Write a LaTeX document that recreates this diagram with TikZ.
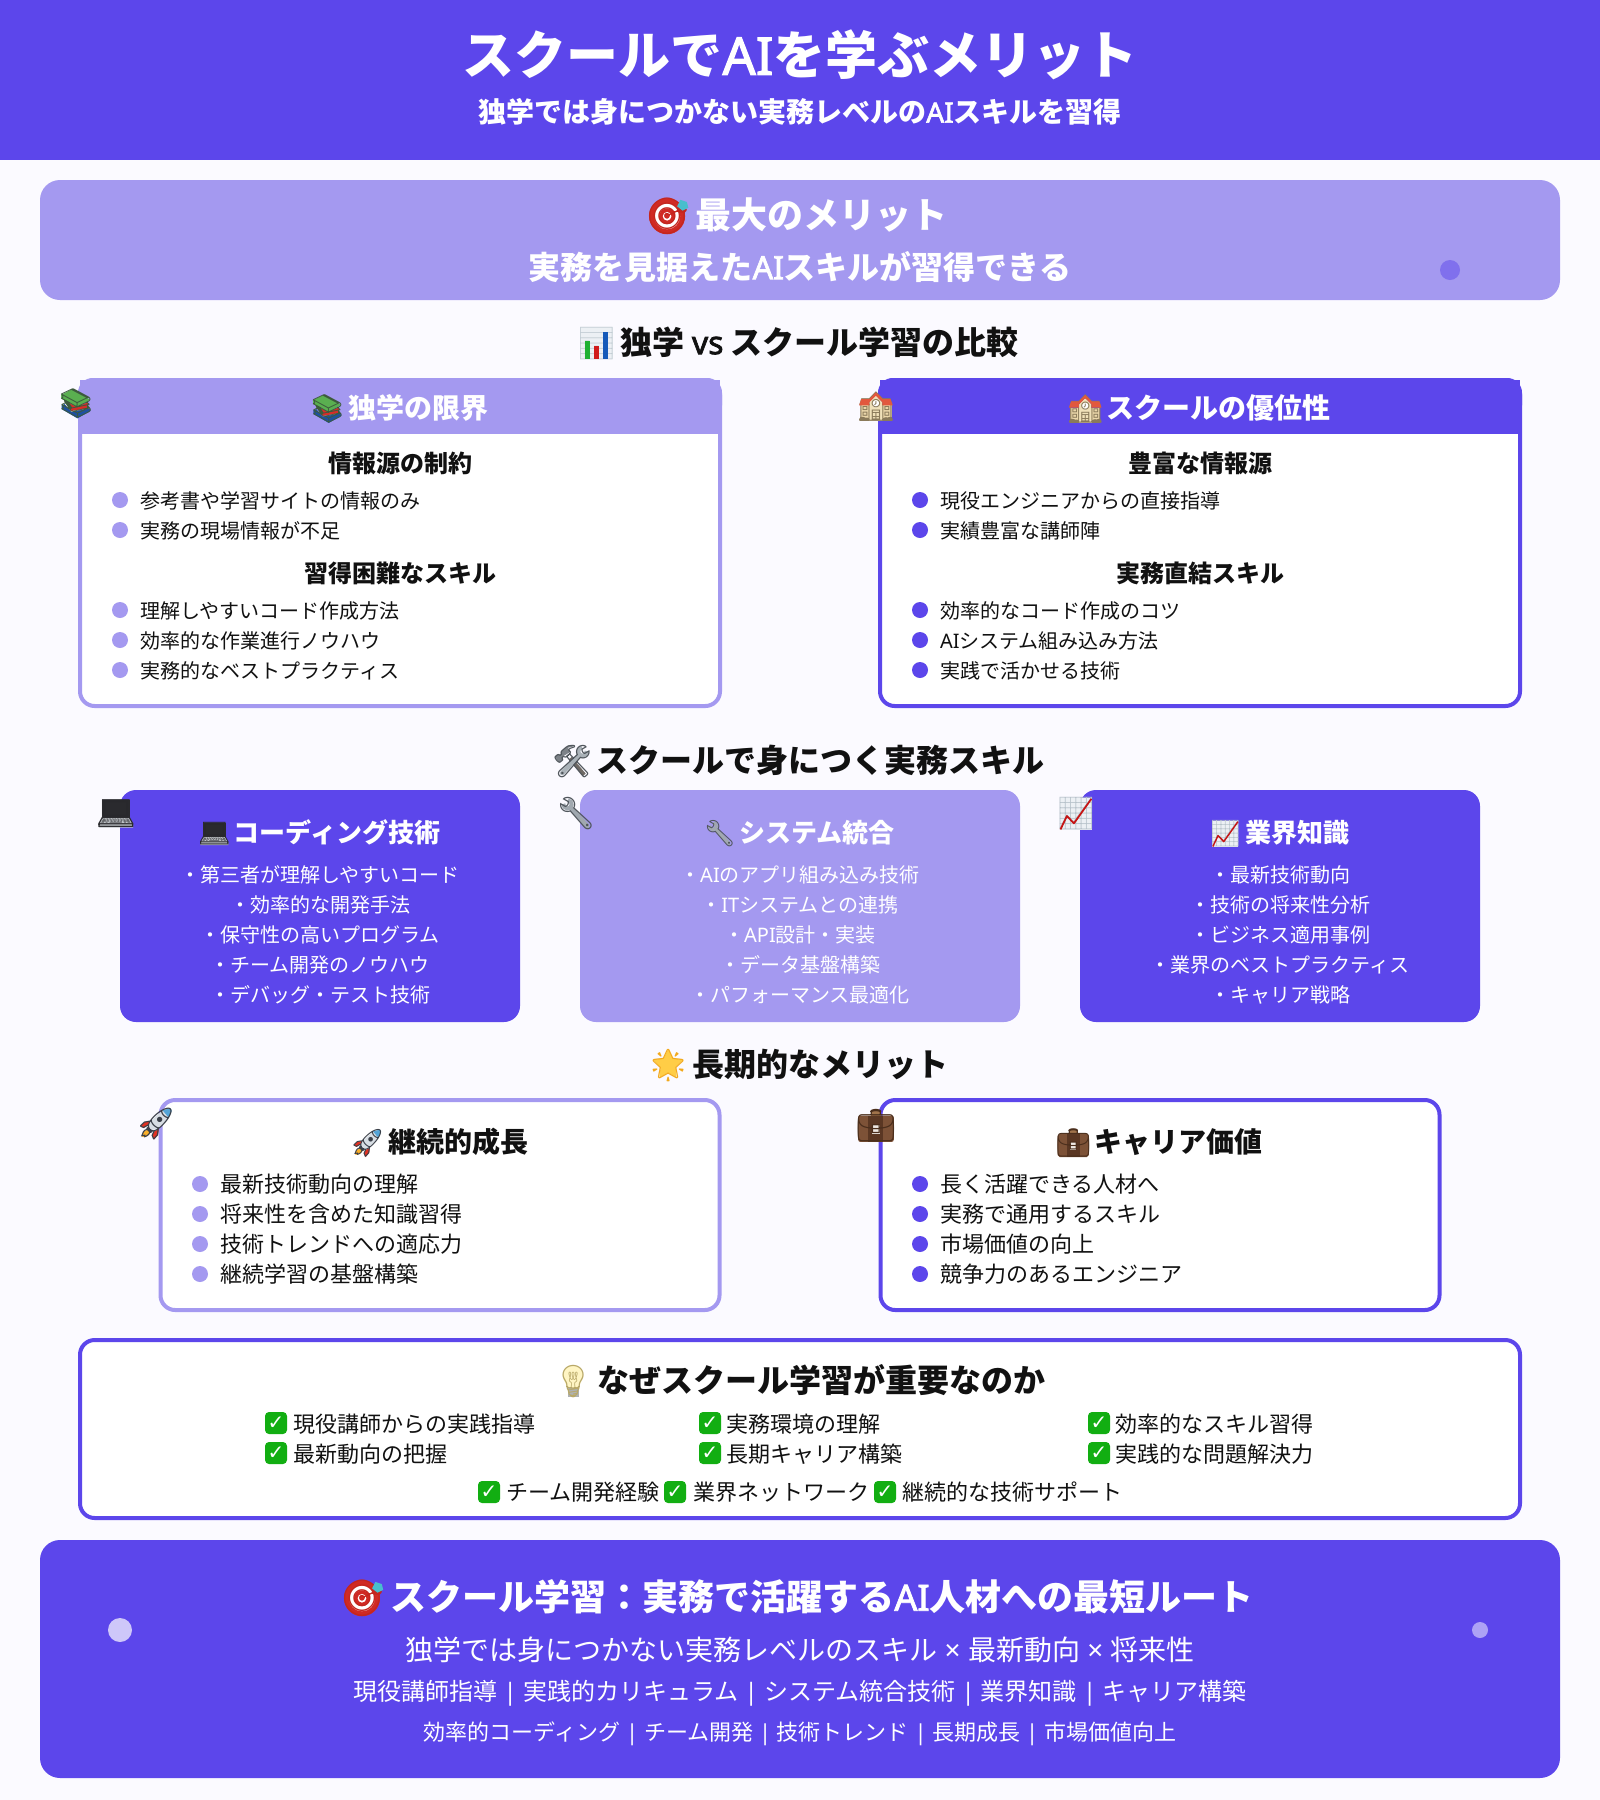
\documentclass[tikz,border=0pt]{standalone}
\usepackage{fontspec}
\setmainfont{Noto Sans CJK JP}
\newfontfamily\emojifont{Noto Emoji}
\newfontfamily\dejafont{DejaVu Sans}
\newfontfamily\lat{Noto Sans}
\newfontfamily\latb{Noto Sans}[FakeBold=2.2]
\definecolor{dk}{HTML}{5C46EB}
\definecolor{lt}{HTML}{A499F0}
\definecolor{pagebg}{HTML}{FBFAFF}
\definecolor{ink}{HTML}{111111}
\definecolor{echk}{HTML}{12AE12}
\newcommand\px[1]{\fontsize{\fpeval{#1*.75}}{\fpeval{#1*.9}}\selectfont}
\newcommand\La[1]{{\lat #1}}
\newcommand\Lb[1]{{\mdseries\latb #1}}
\newcommand\eg{\hspace{.12em}}
% coloured emoji: under-shapes, glyph, glyph colour, over-shapes (em coordinates, origin on the glyph's base line)
\newcommand\emb[4]{\mbox{\emojifont\mdseries
  \tikz[overlay,baseline=0pt,x=1em,y=1em]{#1}%
  \makebox[0pt][l]{\color[HTML]{#3}#2}%
  \tikz[overlay,baseline=0pt,x=1em,y=1em]{#4}%
  \phantom{#2}}}
\newcommand\emTarget{\emb{%
  \fill[fill={rgb,255:red,208;green,42;blue,36}] (.6,.345) circle (.5);
  \fill[white] (.6,.345) circle (.36);
  \fill[fill={rgb,255:red,208;green,42;blue,36}] (.6,.345) circle (.22);
  \fill[white] (.6,.345) circle (.12);
  }{🎯}{C4261E}{%
  \fill[fill={rgb,255:red,72;green,190;blue,205}] (.88,.62)--(.97,.80)--(1.15,.74)--(1.19,.58)--(1.03,.50)--cycle;
  \fill[fill={rgb,255:red,208;green,42;blue,36}] (.6,.345) circle (.06);}}
\newcommand\emBar{\emb{%
  \fill[fill={rgb,255:red,236;green,240;blue,244}] (.13,-.16) rectangle (1.145,.85);
  }{📊}{C3CDD4}{%
  \fill[fill={rgb,255:red,30;green,176;blue,50}] (.276,-.16) rectangle (.42,.425);
  \fill[fill={rgb,255:red,208;green,26;blue,26}] (.563,-.16) rectangle (.71,.265);
  \fill[fill={rgb,255:red,21;green,90;blue,185}] (.85,-.16) rectangle (.99,.68);}}
\newcommand\emBook{\emb{%
  \fill[fill={rgb,255:red,30;green,80;blue,160}] (.14,.30)--(.14,.165)--(.685,-.155)--(1.14,.107)--(1.10,.18)--(.47,.07)--(.24,.34)--cycle;
  \fill[fill={rgb,255:red,215;green,45;blue,40}] (.24,.45)--(.47,.10)--(1.06,.20)--(1.04,.40)--(.68,.24)--cycle;
  \fill[fill={rgb,255:red,90;green,175;blue,80}] (.12,.655)--(.50,.85)--(1.12,.49)--(.68,.235)--(.135,.52)--cycle;
  }{📚}{3C5A3C}{}}
\newcommand\emSchool{\emb{%
  \fill[fill={rgb,255:red,235;green,215;blue,170}] (.10,-.14) rectangle (1.17,.395);
  \fill[fill={rgb,255:red,240;green,225;blue,185}] (.406,-.14)--(.406,.51)--(.628,.732)--(.854,.51)--(.854,-.14)--cycle;
  \fill[white] (.628,.452) circle (.13);
  }{🏫}{8A7A5A}{%
  \fill[fill={rgb,255:red,226;green,88;blue,62}] (.054,.395)--(.126,.617)--(.406,.617)--(.628,.847)--(.866,.617)--(1.134,.617)--(1.21,.395)--(.854,.395)--(.854,.51)--(.628,.732)--(.406,.51)--(.406,.395)--cycle;}}
\newcommand\emTools{\emb{%
  \fill[fill={rgb,255:red,125;green,130;blue,136}] (.096,.49)--(.23,.30)--(.325,.375)--(.345,.49)--(.59,.644)--(.5,.76)--(.716,.816)--(.69,.843)--(.517,.835)--(.287,.644)--(.268,.548)--(.172,.56)--cycle;
  \draw[line width=.12em,color={rgb,255:red,110;green,105;blue,100}] (1.015,-.084)--(.575,.433);
  \draw[line width=.14em,line cap=round,color={rgb,255:red,170;green,178;blue,184}] (.325,-.027)--(.87,.548);
  \draw[line width=.12em,color={rgb,255:red,170;green,178;blue,184}] (.958,.644)++(95:.13) arc (95:365:.13);
  }{🛠}{50565C}{}}
\newcommand\emWrench{\emb{%
  \draw[line width=.14em,line cap=round,color={rgb,255:red,160;green,168;blue,175}] (.985,-.027)--(.487,.51);
  \draw[line width=.12em,color={rgb,255:red,160;green,168;blue,175}] (.37,.644)++(175:.13) arc (175:445:.13);
  }{🔧}{50565C}{}}
\newcommand\emLap{\emb{%
  \fill[fill={rgb,255:red,40;green,40;blue,44}] (.207,.20) rectangle (1.07,.77);
  \fill[fill={rgb,255:red,190;green,194;blue,198}] (.10,-.084)--(1.17,-.084)--(1.17,.03)--(1.05,.22)--(.226,.22)--(.10,.03)--cycle;
  }{💻}{2A2A2E}{}}
\newcommand\emChart{\emb{%
  \fill[fill={rgb,255:red,236;green,240;blue,244}] (.13,-.153) rectangle (1.134,.847);
  }{📈}{B8C3CB}{%
  \draw[line width=.055em,line join=round,color={rgb,255:red,198;green,20;blue,20}] (.15,-.14)--(.35,.28)--(.57,.05)--(1.115,.816);}}
\newcommand\emStar{\emb{%
  \fill[fill={rgb,255:red,255;green,205;blue,70}] (.64,.847)--(.785,.544)--(1.11,.513)--(.87,.284)--(.9,-.042)--(.64,.11)--(.364,-.042)--(.40,.284)--(.165,.513)--(.487,.544)--cycle;
  }{🌟}{F2A91C}{}}
\newcommand\emRocket{\emb{%
  \fill[fill={rgb,255:red,225;green,50;blue,35}] (.15,.272)--(.284,.39)--(.456,.418)--(.398,.314)--(.245,.207)--cycle;
  \fill[fill={rgb,255:red,225;green,50;blue,35}] (.513,-.023)--(.57,-.157)--(.697,-.015)--(.724,.169)--(.57,.092)--cycle;
  \fill[fill={rgb,255:red,250;green,175;blue,40}] (.188,-.061)--(.245,.092)--(.38,.15)--(.475,.073)--(.398,-.023)--(.264,-.08)--cycle;
  \fill[fill={rgb,255:red,216;green,222;blue,228}] (1.09,.82)--(.858,.774)--(.475,.418)--(.418,.264)--(.513,.15)--(.724,.188)--(1.05,.55)--(1.126,.743)--cycle;
  \fill[fill={rgb,255:red,85;green,165;blue,215}] (1.09,.82)--(.838,.76)--(1.03,.53)--(1.126,.743)--cycle;
  }{🚀}{3A3F48}{}}
\newcommand\emCase{\emb{%
  \fill[fill={rgb,255:red,160;green,115;blue,75}] (.467,.62) rectangle (.793,.80);
  \fill[fill={rgb,255:red,125;green,82;blue,55},rounded corners=.07em] (.077,-.157) rectangle (1.19,.67);
  \fill[fill={rgb,255:red,90;green,55;blue,35}] (.40,-.157) rectangle (.86,.67);
  \fill[fill={rgb,255:red,238;green,232;blue,226}] (.517,.103) rectangle (.747,.38);
  }{💼}{4A2E1C}{}}
\newcommand\emBulb{\emb{%
  \fill[fill={rgb,255:red,255;green,245;blue,195}] (.628,.533) circle (.32);
  \fill[fill={rgb,255:red,255;green,245;blue,195}] (.36,.36)--(.896,.36)--(.79,.13)--(.466,.13)--cycle;
  \fill[fill={rgb,255:red,175;green,178;blue,180}] (.464,-.138) rectangle (.808,.13);
  }{💡}{B8A868}{}}
% name, x, y-centre, size, style, text
\newcommand\Tc[6]{\node[txt,anchor=base,#5,font=\px{#4}] (#1) at ({#2},{#3+0.38*#4}) {#6};}
\newcommand\Tl[6]{\node[txt,anchor=base west,#5,font=\px{#4}] (#1) at ({#2},{#3+0.38*#4}) {#6};}
\newcommand\Bu[4]{\node[dot,fill=#4,minimum size=12pt] (#1) at (#2,#3) {};}
\newcommand\Ck[3]{\node[chk] (#1) at (#2,#3) {\fontsize{15}{15}\selectfont\dejafont\bfseries ✓};}
\tikzset{
  txt/.style={inner sep=0,outer sep=0,text=ink},
  wh/.style={text=white},
  dot/.style={circle,inner sep=0,outer sep=0,draw=none},
  chk/.style={rectangle,rounded corners=3pt,fill=echk,text=white,inner sep=0,minimum width=16.5pt,minimum height=16.5pt,draw=none},
  cardline/.style={line width=3pt,fill=white,rounded corners=11pt},
}
\begin{document}
\begin{tikzpicture}[x=.75pt,y=-.75pt]
\useasboundingbox (0,0) rectangle (1600,1800);
\fill[pagebg] (0,0) rectangle (1600,1800);
% header
\fill[dk] (0,0) rectangle (1600,160);
\Tc{title}{800}{55}{52}{wh}{\bfseries スクールで\Lb{AI}を学ぶメリット}
\Tc{subtitle}{800}{112}{28}{wh}{\bfseries 独学では身につかない実務レベルの\Lb{AI}スキルを習得}
% banner
\fill[lt,rounded corners=15pt] (40,180) rectangle (1560,300);
\fill[color=dk!50!lt] (1450,270) circle (10);
\Tc{bant}{796.5}{215}{36}{wh}{\bfseries \emTarget\eg 最大のメリット}
\Tc{banb}{800}{267}{32}{wh}{\bfseries 実務を見据えた\Lb{AI}スキルが習得できる}
% comparison
\Tc{seca}{797.5}{342}{32}{}{\bfseries \emBar\eg 独学 \Lb{vs} スクール学習の比較}
% left card
\draw[lt,cardline] (80,380) rectangle (720,706);
\fill[lt] (80,380) rectangle (720,434);
\fill[lt,rounded corners=11pt] (78,378) rectangle (722,420);
\Tc{lh}{399}{408}{28}{wh}{\bfseries \emBook\eg 独学の限界}
\Tc{la}{400}{463}{24}{}{\bfseries 情報源の制約}
\Bu{b1}{120}{500}{lt}\Tl{l1}{140}{501}{20}{}{参考書や学習サイトの情報のみ}
\Bu{b2}{120}{530}{lt}\Tl{l2}{140}{531}{20}{}{実務の現場情報が不足}
\Tc{lb}{400}{573}{24}{}{\bfseries 習得困難なスキル}
\Bu{b3}{120}{610}{lt}\Tl{l3}{140}{611}{20}{}{理解しやすいコード作成方法}
\Bu{b4}{120}{640}{lt}\Tl{l4}{140}{641}{20}{}{効率的な作業進行ノウハウ}
\Bu{b5}{120}{670}{lt}\Tl{l5}{140}{671}{20}{}{実務的なベストプラクティス}
% right card
\draw[dk,cardline] (880,380) rectangle (1520,706);
\fill[dk] (880,380) rectangle (1520,434);
\fill[dk,rounded corners=11pt] (878,378) rectangle (1522,420);
\Tc{rh}{1199}{408}{28}{wh}{\bfseries \emSchool\eg スクールの優位性}
\Tc{ra}{1200}{463}{24}{}{\bfseries 豊富な情報源}
\Bu{c1}{920}{500}{dk}\Tl{r1}{940}{501}{20}{}{現役エンジニアからの直接指導}
\Bu{c2}{920}{530}{dk}\Tl{r2}{940}{531}{20}{}{実績豊富な講師陣}
\Tc{rb}{1200}{573}{24}{}{\bfseries 実務直結スキル}
\Bu{c3}{920}{610}{dk}\Tl{r3}{940}{611}{20}{}{効率的なコード作成のコツ}
\Bu{c4}{920}{640}{dk}\Tl{r4}{940}{641}{20}{}{\La{AI}システム組み込み方法}
\Bu{c5}{920}{670}{dk}\Tl{r5}{940}{671}{20}{}{実践で活かせる技術}
% skills
\Tc{secb}{798}{760}{32}{}{\bfseries \emTools\eg スクールで身につく実務スキル}
\fill[dk,rounded corners=12pt] (120,790) rectangle (520,1022);
\fill[lt,rounded corners=12pt] (580,790) rectangle (1020,1022);
\fill[dk,rounded corners=12pt] (1080,790) rectangle (1480,1022);
\Tc{sa}{319}{833}{26}{wh}{\bfseries \emLap\eg コーディング技術}
\Tc{sa1}{320}{875}{20}{wh}{・第三者が理解しやすいコード}
\Tc{sa2}{320}{905}{20}{wh}{・効率的な開発手法}
\Tc{sa3}{320}{935}{20}{wh}{・保守性の高いプログラム}
\Tc{sa4}{320}{965}{20}{wh}{・チーム開発のノウハウ}
\Tc{sa5}{320}{995}{20}{wh}{・デバッグ・テスト技術}
\Tc{sb}{799}{833}{26}{wh}{\bfseries \emWrench\eg システム統合}
\Tc{sb1}{800}{875}{20}{wh}{・\La{AI}のアプリ組み込み技術}
\Tc{sb2}{800}{905}{20}{wh}{・\La{IT}システムとの連携}
\Tc{sb3}{800}{935}{20}{wh}{・\La{API}設計・実装}
\Tc{sb4}{800}{965}{20}{wh}{・データ基盤構築}
\Tc{sb5}{800}{995}{20}{wh}{・パフォーマンス最適化}
\Tc{sc}{1279}{833}{26}{wh}{\bfseries \emChart\eg 業界知識}
\Tc{sc1}{1280}{875}{20}{wh}{・最新技術動向}
\Tc{sc2}{1280}{905}{20}{wh}{・技術の将来性分析}
\Tc{sc3}{1280}{935}{20}{wh}{・ビジネス適用事例}
\Tc{sc4}{1280}{965}{20}{wh}{・業界のベストプラクティス}
\Tc{sc5}{1280}{995}{20}{wh}{・キャリア戦略}
% long term
\Tc{secc}{798}{1064}{32}{}{\bfseries \emStar\eg 長期的なメリット}
\draw[lt,cardline] (160.5,1100) rectangle (719.5,1310);
\draw[dk,cardline] (880.5,1100) rectangle (1439.5,1310);
\Tc{ga}{439}{1142}{28}{}{\bfseries \emRocket\eg 継続的成長}
\Bu{d1}{200}{1184}{lt}\Tl{g1}{220}{1184}{22}{}{最新技術動向の理解}
\Bu{d2}{200}{1214}{lt}\Tl{g2}{220}{1214}{22}{}{将来性を含めた知識習得}
\Bu{d3}{200}{1244}{lt}\Tl{g3}{220}{1244}{22}{}{技術トレンドへの適応力}
\Bu{d4}{200}{1274}{lt}\Tl{g4}{220}{1274}{22}{}{継続学習の基盤構築}
\Tc{ha}{1159}{1142}{28}{}{\bfseries \emCase\eg キャリア価値}
\Bu{e1}{920}{1184}{dk}\Tl{h1}{940}{1184}{22}{}{長く活躍できる人材へ}
\Bu{e2}{920}{1214}{dk}\Tl{h2}{940}{1214}{22}{}{実務で通用するスキル}
\Bu{e3}{920}{1244}{dk}\Tl{h3}{940}{1244}{22}{}{市場価値の向上}
\Bu{e4}{920}{1274}{dk}\Tl{h4}{940}{1274}{22}{}{競争力のあるエンジニア}
% why
\draw[dk,cardline] (80,1340) rectangle (1520,1518);
\Tc{why}{799}{1380}{32}{}{\bfseries \emBulb\eg なぜスクール学習が重要なのか}
\Ck{k1}{276}{1423}\Tl{w1}{293}{1424}{22}{}{現役講師からの実践指導}
\Ck{k2}{276}{1453}\Tl{w2}{293}{1454}{22}{}{最新動向の把握}
\Ck{k3}{710}{1423}\Tl{w3}{726}{1424}{22}{}{実務環境の理解}
\Ck{k4}{710}{1453}\Tl{w4}{726}{1454}{22}{}{長期キャリア構築}
\Ck{k5}{1099}{1423}\Tl{w5}{1115}{1424}{22}{}{効率的なスキル習得}
\Ck{k6}{1099}{1453}\Tl{w6}{1115}{1454}{22}{}{実践的な問題解決力}
\Ck{k7}{489}{1492}\Tl{w7}{506}{1492}{22}{}{チーム開発経験}
\Ck{k8}{675}{1492}\Tl{w8}{693}{1492}{22}{}{業界ネットワーク}
\Ck{k9}{885}{1492}\Tl{w9}{902}{1492}{22}{}{継続的な技術サポート}
% footer
\fill[dk,rounded corners=15pt] (40,1540) rectangle (1560,1778);
\fill[white,opacity=.7] (120,1630) circle (12);
\fill[white,opacity=.5] (1480,1630) circle (8);
\Tc{fa}{797}{1597}{36}{wh}{\bfseries \emTarget\eg スクール学習：実務で活躍する\Lb{AI}人材への最短ルート}
\Tc{fb}{800}{1650}{28}{wh}{独学では身につかない実務レベルのスキル\La{ × }最新動向\La{ × }将来性}
\Tc{fc}{800}{1691}{24}{wh}{現役講師指導\La{ | }実践的カリキュラム\La{ | }システム統合技術\La{ | }業界知識\La{ | }キャリア構築}
\Tc{fd}{800}{1732}{22}{wh}{効率的コーディング\La{ | }チーム開発\La{ | }技術トレンド\La{ | }長期成長\La{ | }市場価値向上}
% floating emoji
\node[txt,anchor=center,font=\px{29}] (flbook) at (76,404) {\emBook};
\node[txt,anchor=center,font=\px{29}] (flschool) at (876,407) {\emSchool};
\node[txt,anchor=center,font=\px{32}] (fllap) at (116,814) {\emLap};
\node[txt,anchor=center,font=\px{32}] (flwrench) at (576,814) {\emWrench};
\node[txt,anchor=center,font=\px{32}] (flchart) at (1076,814) {\emChart};
\node[txt,anchor=center,font=\px{32}] (flrocket) at (156,1124) {\emRocket};
\node[txt,anchor=center,font=\px{32}] (flcase) at (876,1126) {\emCase};
\end{tikzpicture}
\end{document}
